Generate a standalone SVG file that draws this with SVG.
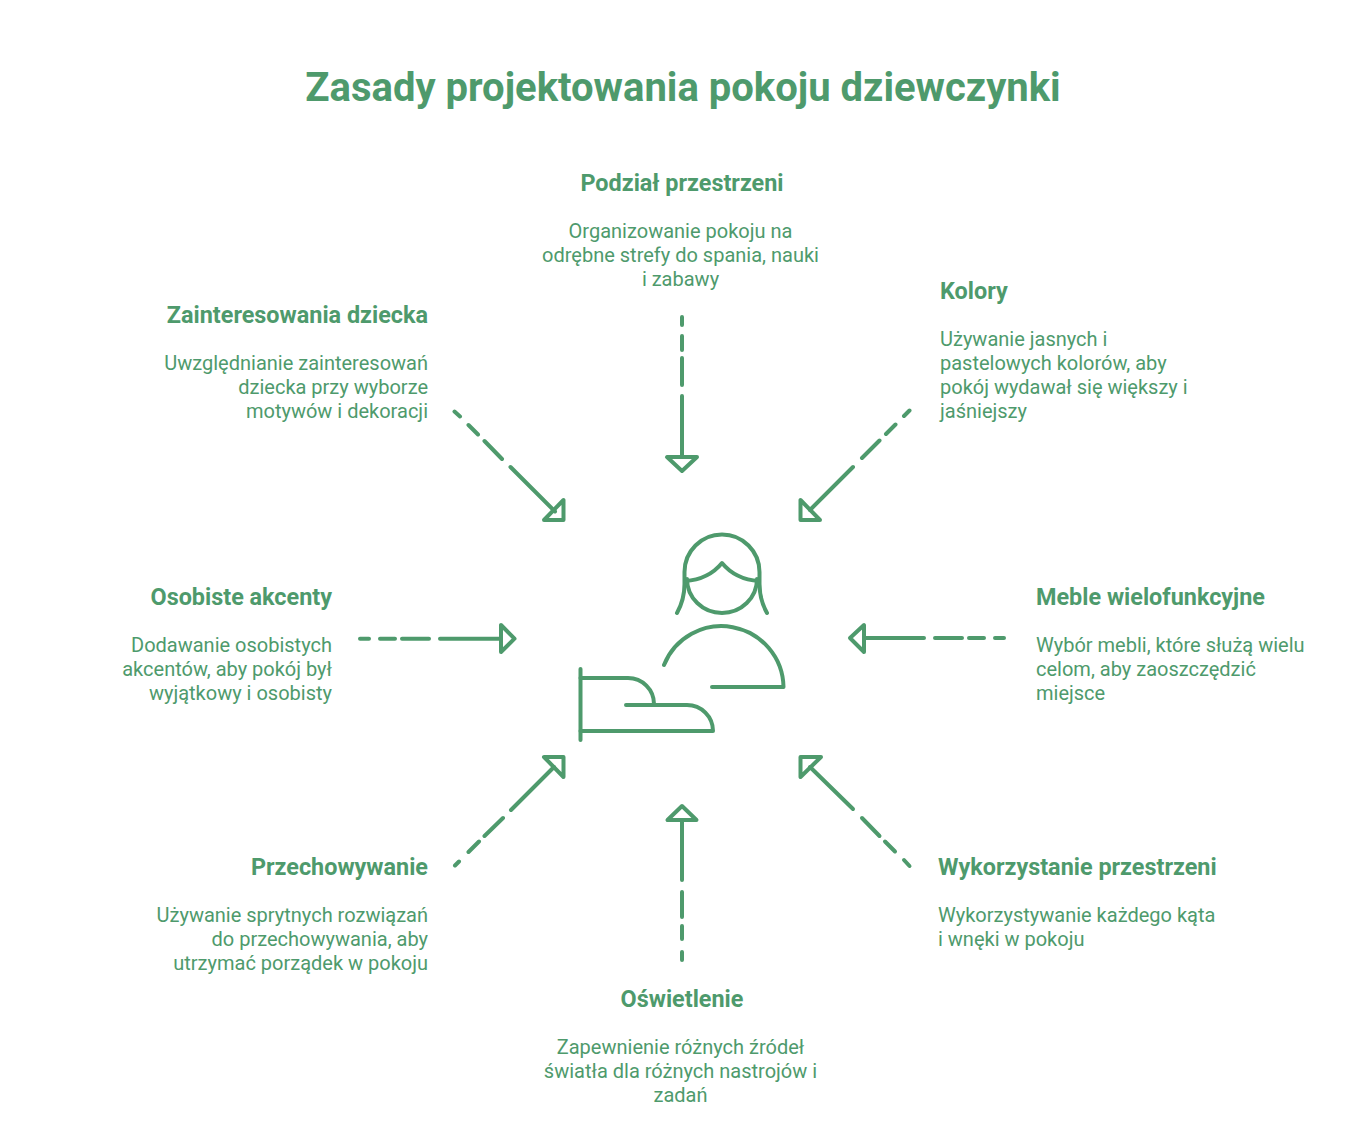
<svg xmlns="http://www.w3.org/2000/svg" width="1368" height="1140" viewBox="0 0 1368 1140">
<style>
text{font-family:Roboto,"Liberation Sans",sans-serif;fill:#4e9a6c}
.t{font-size:40px;font-weight:700}
.h{font-size:23.400px;font-weight:700}
.b{font-size:20px;font-weight:400}
.m{text-anchor:middle}.e{text-anchor:end}
.l{fill:none;stroke:#4e9a6c;stroke-width:4;stroke-linecap:round;stroke-linejoin:round}
</style>
<rect width="1368" height="1140" fill="#fff"/>
<text class="t m" x="683" y="101">Zasady projektowania pokoju dziewczynki</text>
<g id="connectors" class="l">
<path d="M682 317V325M682 336V350M682 358V385M682 396V457"/><path d="M667 457H697L682 471Z"/>
<path d="M454.500 411.500L460 416.500M468.500 425L478 434.500M484.500 441L502 459M510.500 467L555 511.500"/><path d="M563.500 500V520H544Z"/>
<path d="M360 638.700H369M380 638.700H395M402 638.700H429M440 638.700H500"/><path d="M501 625V652L514.500 638.700Z"/>
<path d="M455 865.500L459 861.500M468.500 852L479 841.500M484.500 836L503 818M511 810L554 767"/><path d="M544 757H563.500V777Z"/>
<path d="M682 960V952M682 939V926M682 917V892M682 880V820"/><path d="M667.500 820H696.500L682 806Z"/>
<path d="M909.500 866L904 860M895 851.500L885 841.500M879.500 836L862 818M853 809L810 767"/><path d="M800.500 757H821L800.500 777Z"/>
<path d="M909.500 410.500L904 416M895.500 424.500L886 434M879.500 440.500L862 458M853 467L810 510"/><path d="M800.500 500V520H820Z"/>
<path d="M1004 638H995M984 638H969M962 638H935M924 638H865"/><path d="M864 625V652L850 638Z"/>
</g>
<g id="center-icon" class="l">
<path d="M677 613C682 604 684.500 594 684.500 584V572A37.500 37.500 0 0 1 759.500 572V584C759.500 594 762 604 767 613"/>
<path d="M685 581C700 580 713 574 722 563C731 574 744 580 759 581"/>
<path d="M687 579A35 34 0 0 0 757 579"/>
<path d="M664 665A62 62 0 0 1 783.500 687H712"/>
<path d="M580.500 669V740"/>
<path d="M580.500 678H628A26 26 0 0 1 654 704"/>
<path d="M626 705H687A26 26 0 0 1 713 731H580.500"/>
</g>
<g id="node-podzial"><text class="h m" x="682" y="191">Podział przestrzeni</text><text class="b m" x="680.500" y="238">Organizowanie pokoju na</text><text class="b m" x="680.500" y="262">odrębne strefy do spania, nauki</text><text class="b m" x="680.500" y="286">i zabawy</text></g>
<g id="node-kolory"><text class="h" x="940" y="299">Kolory</text><text class="b" x="940" y="346">Używanie jasnych i</text><text class="b" x="940" y="370">pastelowych kolorów, aby</text><text class="b" x="940" y="394">pokój wydawał się większy i</text><text class="b" x="940" y="418">jaśniejszy</text></g>
<g id="node-meble"><text class="h" x="1036" y="605">Meble wielofunkcyjne</text><text class="b" x="1036" y="652">Wybór mebli, które służą wielu</text><text class="b" x="1036" y="676">celom, aby zaoszczędzić</text><text class="b" x="1036" y="700">miejsce</text></g>
<g id="node-wykorzystanie"><text class="h" x="938" y="875">Wykorzystanie przestrzeni</text><text class="b" x="938" y="922">Wykorzystywanie każdego kąta</text><text class="b" x="938" y="946">i wnęki w pokoju</text></g>
<g id="node-oswietlenie"><text class="h m" x="682" y="1007">Oświetlenie</text><text class="b m" x="680.500" y="1054">Zapewnienie różnych źródeł</text><text class="b m" x="680.500" y="1078">światła dla różnych nastrojów i</text><text class="b m" x="680.500" y="1102">zadań</text></g>
<g id="node-przechowywanie"><text class="h e" x="428" y="875">Przechowywanie</text><text class="b e" x="428" y="922">Używanie sprytnych rozwiązań</text><text class="b e" x="428" y="946">do przechowywania, aby</text><text class="b e" x="428" y="970">utrzymać porządek w pokoju</text></g>
<g id="node-akcenty"><text class="h e" x="332" y="605">Osobiste akcenty</text><text class="b e" x="332" y="652">Dodawanie osobistych</text><text class="b e" x="332" y="676">akcentów, aby pokój był</text><text class="b e" x="332" y="700">wyjątkowy i osobisty</text></g>
<g id="node-zainteresowania"><text class="h e" x="428" y="323">Zainteresowania dziecka</text><text class="b e" x="428" y="370">Uwzględnianie zainteresowań</text><text class="b e" x="428" y="394">dziecka przy wyborze</text><text class="b e" x="428" y="418">motywów i dekoracji</text></g>
</svg>
